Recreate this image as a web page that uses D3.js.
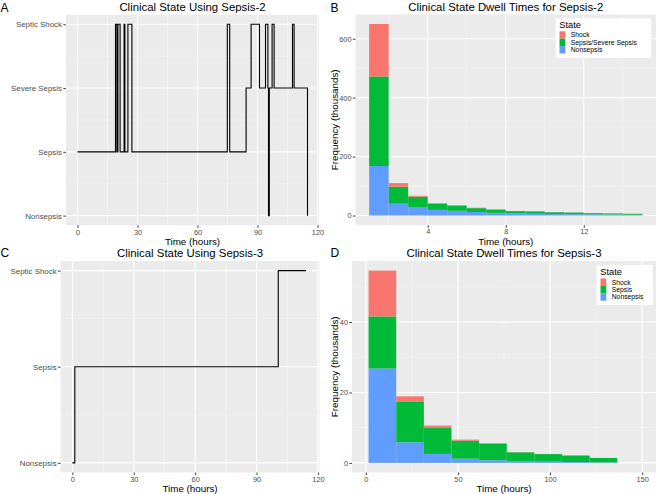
<!DOCTYPE html>
<html><head><meta charset="utf-8">
<script src="https://cdn.jsdelivr.net/npm/d3@7"></script>
<style>
body{margin:0;background:#fff}
svg{display:block;font-family:"Liberation Sans",Arial,Helvetica,sans-serif}
</style>
</head><body>
<svg id="c" width="656" height="494"></svg>
<script>
// ---------- data ----------
const stateLevels4 = ["Nonsepsis", "Sepsis", "Severe Sepsis", "Septic Shock"];
const stateLevels3 = ["Nonsepsis", "Sepsis", "Septic Shock"];

// Panel A: state trajectory (Sepsis-2)
const timesA  = [0, 19, 19.7, 20.2, 21.3, 23.3, 23.7, 25.2, 27.2, 74.9, 76.1, 84.3, 86.8, 91, 94, 95.2, 95.5, 95.9, 97.3, 98.3, 107.5, 108.3, 115];
const statesA = ["Sepsis", "Septic Shock", "Sepsis", "Septic Shock", "Sepsis", "Septic Shock", "Sepsis", "Septic Shock", "Sepsis",
                 "Septic Shock", "Sepsis", "Severe Sepsis", "Septic Shock", "Severe Sepsis", "Septic Shock", "Severe Sepsis",
                 "Nonsepsis", "Severe Sepsis", "Septic Shock", "Severe Sepsis", "Septic Shock", "Severe Sepsis", "Nonsepsis"];

// Panel C: state trajectory (Sepsis-3)
const timesC  = [0, 1.2, 100.6, 114.2];
const statesC = ["Nonsepsis", "Sepsis", "Septic Shock", "Septic Shock"];

// Panel B: dwell times histogram (Sepsis-2), thousands
const binStartB  = [1, 2, 3, 4, 5, 6, 7, 8, 9, 10, 11, 12, 13, 14];
const binWidthB  = 1;
const nonsepsisB = [168, 40, 29, 19, 16, 12, 9, 7, 6, 5, 4.5, 4, 3.5, 3];
const sepsisB    = [304, 58, 35, 21, 18, 13, 11, 8, 8, 6, 5.5, 4, 3.5, 3];
const shockB     = [178, 12, 3, 2, 1, 1.5, 1, 0.5, 0.3, 0.3, 0.2, 0.2, 0.1, 0.1];

// Panel D: dwell times histogram (Sepsis-3), thousands
const binStartD  = [1.5, 16.5, 31.5, 46.5, 61.5, 76.5, 91.5, 106.5, 121.5];
const binWidthD  = 15;
const nonsepsisD = [26.8, 5.85, 2.55, 1.2, 0.75, 0.5, 0.35, 0.25, 0.15];
const sepsisD    = [14.8, 11.45, 7.35, 5.1, 4.65, 2.5, 2.15, 1.85, 1.25];
const shockD     = [13.0, 1.6, 0.7, 0.3, 0.2, 0.05, 0.05, 0.02, 0.01];

// ticks
const xTicksAC = [0, 30, 60, 90, 120];
const xMinorAC = [15, 45, 75, 105];
const xTicksB = [4, 8, 12];
const xMinorB = [2, 6, 10, 14];
const yTicksB = [0, 200, 400, 600];
const yMinorB = [100, 300, 500];
const xTicksD = [0, 50, 100, 150];
const xMinorD = [25, 75, 125];
const yTicksD = [0, 20, 40];
const yMinorD = [10, 30, 50];

const legendB = ["Shock", "Sepsis/Severe Sepsis", "Nonsepsis"];
const legendD = ["Shock", "Sepsis", "Nonsepsis"];
const stackKeys = ["Nonsepsis", "Sepsis", "Shock"];
const fillColors = { Shock: "#F8766D", Sepsis: "#00BA38", Nonsepsis: "#619CFF" };

// ---------- drawing ----------
const svg = d3.select("#c");
svg.append("rect").attr("width", 656).attr("height", 494).attr("fill", "#fff");

function panel(opt) {
  const g = svg.append("g");
  const x = d3.scaleLinear().domain(opt.xDom).range([opt.x0, opt.x1]);
  const y = d3.scaleLinear().domain(opt.yDom).range([opt.y1, opt.y0]);
  g.append("rect").attr("x", opt.x0).attr("y", opt.y0)
    .attr("width", opt.x1 - opt.x0).attr("height", opt.y1 - opt.y0).attr("fill", "#EBEBEB");
  // minor grid
  g.selectAll(".vmin").data(opt.xMinor).enter().append("line")
    .attr("x1", d => x(d)).attr("x2", d => x(d)).attr("y1", opt.y0).attr("y2", opt.y1)
    .attr("stroke", "#F7F7F7").attr("stroke-width", 0.55);
  g.selectAll(".hmin").data(opt.yMinor).enter().append("line")
    .attr("y1", d => y(d)).attr("y2", d => y(d)).attr("x1", opt.x0).attr("x2", opt.x1)
    .attr("stroke", "#F7F7F7").attr("stroke-width", 0.55);
  // major grid
  g.selectAll(".vmaj").data(opt.xTicks).enter().append("line")
    .attr("x1", d => x(d)).attr("x2", d => x(d)).attr("y1", opt.y0).attr("y2", opt.y1)
    .attr("stroke", "#fff").attr("stroke-width", 1.1);
  g.selectAll(".hmaj").data(opt.yTicks).enter().append("line")
    .attr("y1", d => y(d)).attr("y2", d => y(d)).attr("x1", opt.x0).attr("x2", opt.x1)
    .attr("stroke", "#fff").attr("stroke-width", 1.1);

  // axes
  const ax = g.append("g").attr("transform", `translate(0,${opt.y1})`)
    .call(d3.axisBottom(x).tickValues(opt.xTicks).tickSize(2.7).tickPadding(1.4).tickFormat(d3.format("d")));
  const ay = g.append("g").attr("transform", `translate(${opt.x0},0)`)
    .call(d3.axisLeft(y).tickValues(opt.yTicks).tickSize(2.7).tickPadding(1.3).tickFormat(opt.yFormat || d3.format("d")));
  [ax, ay].forEach(a => {
    a.attr("font-family", null).attr("font-size", null);
    a.select(".domain").remove();
    a.selectAll(".tick line").attr("stroke", "#333").attr("stroke-width", 0.9);
    a.selectAll(".tick text").attr("fill", "#4D4D4D").attr("font-size", 7.4);
  });
  if (opt.yFormat) ay.selectAll(".tick text").attr("font-size", 7.9);

  // titles
  g.append("text").attr("x", (opt.x0 + opt.x1) / 2).attr("y", opt.titleY)
    .attr("text-anchor", "middle").attr("font-size", 11.4).attr("fill", "#000").text(opt.title);
  g.append("text").attr("x", (opt.x0 + opt.x1) / 2).attr("y", opt.xlabY)
    .attr("text-anchor", "middle").attr("font-size", 9.8).attr("fill", "#000").text("Time (hours)");
  if (opt.ylab) {
    g.append("text").attr("transform", `translate(${opt.ylabX},${(opt.y0 + opt.y1) / 2}) rotate(-90)`)
      .attr("text-anchor", "middle").attr("font-size", 9.8).attr("fill", "#000").text(opt.ylab);
  }
  g.append("text").attr("x", opt.tagX).attr("y", opt.tagY).attr("font-size", 12).attr("fill", "#000").text(opt.tag);
  return { g, x, y };
}

function stateLine(p, times, states, levels) {
  const pts = times.map((t, i) => [t, levels.indexOf(states[i]) + 1]);
  const line = d3.line().x(d => p.x(d[0])).y(d => p.y(d[1])).curve(d3.curveStepAfter);
  p.g.append("path").datum(pts).attr("d", line).attr("fill", "none")
    .attr("stroke", "#000").attr("stroke-width", 1.1).attr("stroke-linejoin", "miter");
}

function histogram(p, starts, width, non, sep, sho) {
  const rows = starts.map((s, i) => ({ start: s, Nonsepsis: non[i], Sepsis: sep[i], Shock: sho[i] }));
  const series = d3.stack().keys(stackKeys)(rows);
  series.forEach(s => {
    p.g.append("g").selectAll("rect").data(s).enter().append("rect")
      .attr("x", d => p.x(d.data.start))
      .attr("width", d => p.x(d.data.start + width) - p.x(d.data.start))
      .attr("y", d => p.y(d[1]))
      .attr("height", d => Math.max(0, p.y(d[0]) - p.y(d[1])))
      .attr("fill", fillColors[s.key]);
  });
}

function legend(opt, labels) {
  const g = svg.append("g");
  g.append("rect").attr("x", opt.x).attr("y", opt.y).attr("width", opt.w).attr("height", opt.h).attr("fill", "#fff");
  g.append("text").attr("x", opt.x + 3.5).attr("y", opt.y + 9.5).attr("font-size", 9.3).attr("fill", "#000").text("State");
  const keys = ["Shock", "Sepsis", "Nonsepsis"];
  labels.forEach((lab, i) => {
    const ky = opt.y + opt.keyTop + i * opt.keyH;
    g.append("rect").attr("x", opt.x + 3.8).attr("y", ky).attr("width", 5.8).attr("height", opt.keyH)
      .attr("fill", fillColors[keys[i]]);
    g.append("text").attr("x", opt.x + 15).attr("y", ky + opt.keyH / 2 + 2.4)
      .attr("font-size", opt.fs).attr("fill", "#000").text(lab);
  });
}

// Panel A
const pA = panel({
  x0: 66, x1: 319, y0: 14.7, y1: 225.2, xDom: [-5.75, 120.75], yDom: [0.85, 4.15],
  xTicks: xTicksAC, xMinor: xMinorAC, yTicks: [1, 2, 3, 4], yMinor: [1.5, 2.5, 3.5],
  yFormat: d => stateLevels4[d - 1],
  title: "Clinical State Using Sepsis-2", titleY: 11.4, xlabY: 245.4, tag: "A", tagX: 0.5, tagY: 12.2
});
stateLine(pA, timesA, statesA, stateLevels4);

// Panel B
const pB = panel({
  x0: 355.5, x1: 656, y0: 14.4, y1: 225.1, xDom: [0.3, 15.7], yDom: [-32.5, 682.5],
  xTicks: xTicksB, xMinor: xMinorB, yTicks: yTicksB, yMinor: yMinorB,
  title: "Clinical State Dwell Times for Sepsis-2", titleY: 11.4, xlabY: 245.4,
  ylab: "Frequency (thousands)", ylabX: 337.6, tag: "B", tagX: 330.5, tagY: 12.2
});
histogram(pB, binStartB, binWidthB, nonsepsisB, sepsisB, shockB);
legend({ x: 555.7, y: 18.3, w: 95.5, h: 39.6, keyTop: 13, keyH: 7.4, fs: 6.8 }, legendB);

// Panel C
const pC = panel({
  x0: 60.6, x1: 319.5, y0: 261, y1: 472.5, xDom: [-5.75, 120.75], yDom: [0.9, 3.1],
  xTicks: xTicksAC, xMinor: xMinorAC, yTicks: [1, 2, 3], yMinor: [1.5, 2.5],
  yFormat: d => stateLevels3[d - 1],
  title: "Clinical State Using Sepsis-3", titleY: 257.2, xlabY: 492, tag: "C", tagX: 0.5, tagY: 256.8
});
stateLine(pC, timesC, statesC, stateLevels3);

// Panel D
const pD = panel({
  x0: 352, x1: 656, y0: 261, y1: 472.5, xDom: [-7.5, 157.5], yDom: [-2.73, 57.33],
  xTicks: xTicksD, xMinor: xMinorD, yTicks: yTicksD, yMinor: yMinorD,
  title: "Clinical State Dwell Times for Sepsis-3", titleY: 257.2, xlabY: 492,
  ylab: "Frequency (thousands)", ylabX: 337.6, tag: "D", tagX: 330.5, tagY: 256.8
});
histogram(pD, binStartD, binWidthD, nonsepsisD, sepsisD, shockD);
legend({ x: 596.7, y: 265, w: 56, h: 40, keyTop: 13.5, keyH: 7.4, fs: 6.8 }, legendD);
</script>
</body></html>
